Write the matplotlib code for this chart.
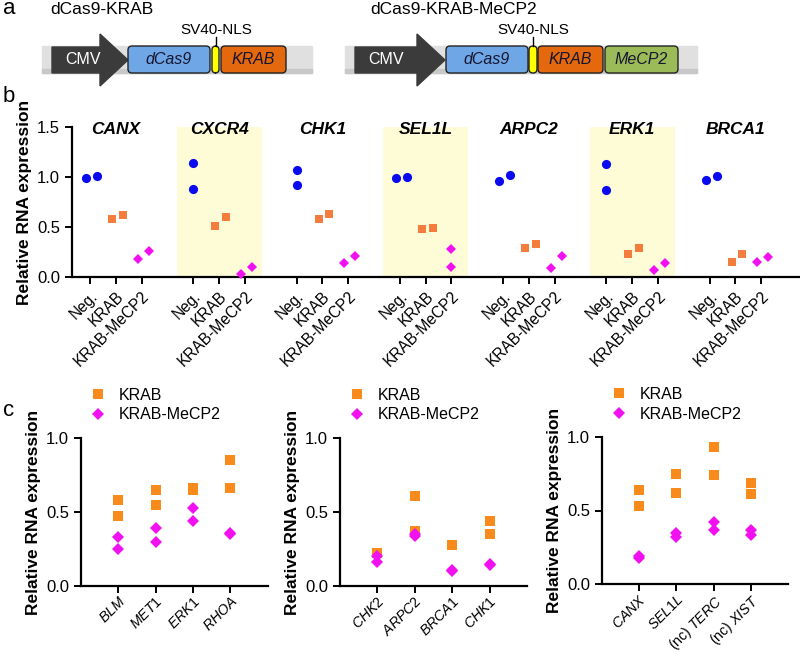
import matplotlib
matplotlib.use("Agg")
import matplotlib.pyplot as plt
from matplotlib.patches import FancyBboxPatch, Polygon, Rectangle
from matplotlib.ticker import FormatStrFormatter

plt.rcParams['font.family'] = ['Liberation Sans', 'DejaVu Sans']
plt.rcParams['mathtext.fontset'] = 'custom'
plt.rcParams['mathtext.it'] = 'Liberation Sans:italic'
plt.rcParams['mathtext.rm'] = 'Liberation Sans'

# ---- panel b data ----
genes_b = ['CANX', 'CXCR4', 'CHK1', 'SEL1L', 'ARPC2', 'ERK1', 'BRCA1']
conditions = ['Neg.', 'KRAB', 'KRAB-MeCP2']
shaded = [False, True, False, True, False, True, False]
neg_b = [[0.99, 1.01], [1.14, 0.88], [1.07, 0.92], [0.99, 1.00],
         [0.96, 1.02], [1.13, 0.87], [0.97, 1.01]]
krab_b = [[0.58, 0.62], [0.51, 0.60], [0.58, 0.63], [0.48, 0.49],
          [0.29, 0.33], [0.23, 0.29], [0.15, 0.23]]
mecp2_b = [[0.18, 0.26], [0.03, 0.10], [0.14, 0.21], [0.28, 0.10],
           [0.09, 0.21], [0.07, 0.14], [0.15, 0.20]]

# ---- panel c data ----
genes_c1 = ['BLM', 'MET1', 'ERK1', 'RHOA']
krab_c1 = [[0.58, 0.47], [0.65, 0.55], [0.65, 0.66], [0.85, 0.66]]
mecp2_c1 = [[0.33, 0.25], [0.39, 0.30], [0.53, 0.44], [0.36, 0.35]]

genes_c2 = ['CHK2', 'ARPC2', 'BRCA1', 'CHK1']
krab_c2 = [[0.22, 0.22], [0.61, 0.37], [0.28, 0.28], [0.44, 0.35]]
mecp2_c2 = [[0.20, 0.16], [0.35, 0.34], [0.11, 0.10], [0.15, 0.14]]

genes_c3 = ['CANX', 'SEL1L', '(nc) TERC', '(nc) XIST']
krab_c3 = [[0.64, 0.53], [0.75, 0.62], [0.93, 0.74], [0.69, 0.61]]
mecp2_c3 = [[0.19, 0.18], [0.35, 0.32], [0.42, 0.37], [0.37, 0.33]]

blue = '#0a0af0'
orange_b = '#f47c3c'
orange_c = '#f98a1c'
magenta = '#f010f0'
band = '#fefcd7'

fig = plt.figure(figsize=(8, 6.54), dpi=100)


# ---------------- a: construct schematics ----------------
ax0 = fig.add_axes([0, 0, 1, 1])
ax0.set_xlim(0, 800)
ax0.set_ylim(654, 0)
ax0.axis('off')


def construct(ax, bar, arrow0, tip, boxes, nls_x):
    ax.add_patch(Rectangle((bar[0], 46), bar[1] - bar[0], 27, color='#e0e0e0', zorder=1))
    ax.add_patch(Rectangle((bar[0], 69), bar[1] - bar[0], 4, color='#c8c8c8', zorder=1))
    head = tip - 28
    pts = [(arrow0, 47), (head, 47), (head, 34), (tip, 60), (head, 86), (head, 73), (arrow0, 73)]
    ax.add_patch(Polygon(pts, closed=True, color='#3b3b3b', zorder=2))
    ax.text(arrow0 + 31, 60, 'CMV', color='white', fontsize=11.5, ha='center', va='center', zorder=3)
    for x0, x1, col, lab in boxes:
        ax.add_patch(FancyBboxPatch((x0, 46), x1 - x0, 27,
                                    boxstyle='round,pad=0,rounding_size=4',
                                    fc=col, ec='#222222', lw=1.0, zorder=2))
        if lab:
            ax.text((x0 + x1) / 2, 60, lab, fontsize=11.5, fontstyle='italic',
                    ha='center', va='center', color='#151530', zorder=3)
    ax.plot([nls_x, nls_x], [37, 46], color='black', lw=1, zorder=2)
    ax.text(nls_x, 30, 'SV40-NLS', fontsize=11, ha='center', va='center')


construct(ax0, (42, 312), 52, 128,
          [(128, 210, '#6fa6e6', 'dCas9'), (212, 219, '#ffff00', ''),
           (221, 286, '#e4680e', 'KRAB')], 216)
construct(ax0, (345, 697), 355, 445,
          [(446, 528, '#6fa6e6', 'dCas9'), (529, 537, '#ffff00', ''),
           (538, 603, '#e4680e', 'KRAB'), (605, 678, '#9bbb59', 'MeCP2')], 533)
ax0.text(50, 9, 'dCas9-KRAB', fontsize=12.5, va='center')
ax0.text(370, 9, 'dCas9-KRAB-MeCP2', fontsize=12.5, va='center')

fig.text(3 / 800, 1 - 9 / 654, 'a', fontsize=16, va='center')
fig.text(3 / 800, 1 - 97 / 654, 'b', fontsize=16, va='center')
fig.text(3 / 800, 1 - 410 / 654, 'c', fontsize=16, va='center')


def style_axes(ax, size):
    for s in ['top', 'right']:
        ax.spines[s].set_visible(False)
    for s in ['left', 'bottom']:
        ax.spines[s].set_linewidth(1.6)
    ax.tick_params(direction='out', length=5, width=1.4, labelsize=size)
    ax.tick_params(axis='y', labelsize=12)
    ax.yaxis.set_major_formatter(FormatStrFormatter('%.1f'))
    ax.set_ylabel('Relative RNA expression', fontsize=12.5, fontweight='bold')
    ax.patch.set_alpha(0)


# ---------------- b ----------------
axb = fig.add_axes([72 / 800, 1 - 277 / 654, 728 / 800, 150 / 654])
axb.set_xlim(-0.7, 27.5)
axb.set_ylim(0, 1.5)
step = 4
series_b = [(neg_b, 'o', blue, 6.6), (krab_b, 's', orange_b, 6.2), (mecp2_b, 'D', magenta, 5.6)]
for g, gene in enumerate(genes_b):
    base = g * step
    if shaded[g]:
        axb.axvspan(base - 0.65, base + 2.65, color=band, lw=0, zorder=0)
    for k, (vals, mk, col, ms) in enumerate(series_b):
        pair = sorted(vals[g])
        if pair[1] - pair[0] < 0.13:
            xs = [base + k - 0.15, base + k + 0.27]
        else:
            xs = [base + k, base + k]
        axb.plot(xs, pair, ls='none', marker=mk, color=col, ms=ms, mew=0, clip_on=False, zorder=3)
    axb.text(base + 1, 1.47, gene, ha='center', va='center', fontsize=12.5,
             fontweight='bold', fontstyle='italic')

ticks_b = [g * step + k for g in range(len(genes_b)) for k in range(len(conditions))]
axb.set_xticks(ticks_b)
axb.set_xticklabels(conditions * len(genes_b), rotation=45, ha='right', rotation_mode='anchor')
axb.set_yticks([0, 0.5, 1.0, 1.5])
style_axes(axb, 11.2)


# ---------------- c ----------------
def tick_label(name):
    if name.startswith('(nc) '):
        return '(nc) $\\mathit{' + name[5:] + '}$'
    return '$\\mathit{' + name + '}$'


def panel_c(rect, genes, krab, mecp2):
    ax = fig.add_axes(rect)
    n = len(genes)
    xs = [i + 1 for i in range(n) for _ in range(2)]
    ax.plot(xs, [v for p in krab for v in p], ls='none', marker='s', color=orange_c,
            ms=6.8, mew=0, label='KRAB', clip_on=False, zorder=3)
    ax.plot(xs, [v for p in mecp2 for v in p], ls='none', marker='D', color=magenta,
            ms=6.2, mew=0, label='KRAB-MeCP2', clip_on=False, zorder=4)
    ax.set_xlim(0, n + 1)
    ax.set_ylim(0, 1.0)
    ax.set_xticks(range(1, n + 1))
    ax.set_xticklabels([tick_label(gname) for gname in genes], rotation=45,
                       ha='right', rotation_mode='anchor')
    ax.set_yticks([0, 0.5, 1.0])
    style_axes(ax, 10.2)
    ax.tick_params(axis='x', pad=1)
    ax.legend(loc='upper left', bbox_to_anchor=(0.046, 1.34), frameon=False,
              fontsize=11.5, handlelength=1.0, handletextpad=0.85, labelspacing=0.3,
              borderpad=0, borderaxespad=0, numpoints=1)
    return ax


panel_c([81 / 800, 1 - 586 / 654, 186.5 / 800, 148 / 654], genes_c1, krab_c1, mecp2_c1)
panel_c([340 / 800, 1 - 586 / 654, 187 / 800, 148 / 654], genes_c2, krab_c2, mecp2_c2)
panel_c([602 / 800, 1 - 584 / 654, 186 / 800, 147 / 654], genes_c3, krab_c3, mecp2_c3)

fig.savefig('out.png', dpi=100)
